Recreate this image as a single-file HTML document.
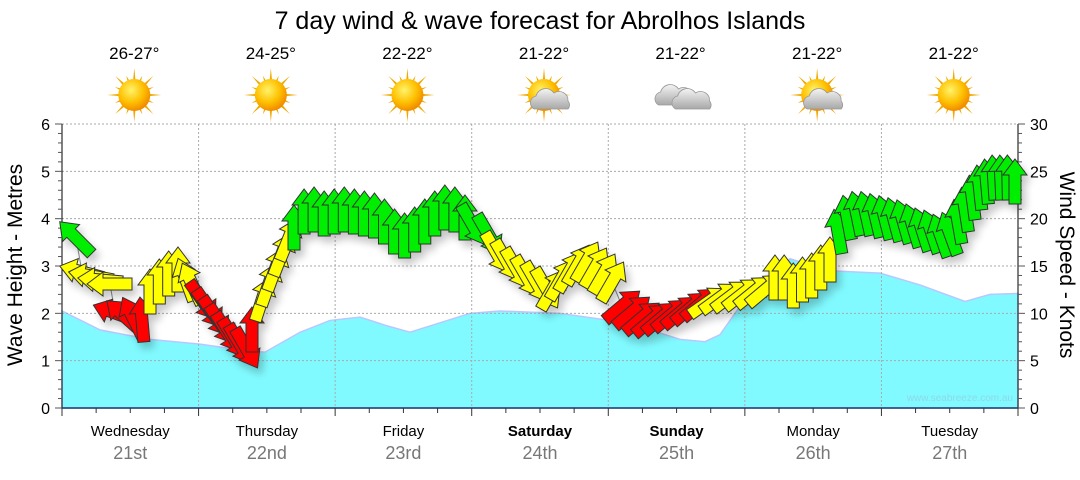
<!DOCTYPE html>
<html><head><meta charset="utf-8"><style>
body{margin:0;background:#fff;width:1080px;height:475px;overflow:hidden;font-family:"Liberation Sans",sans-serif}
</style></head><body>
<svg id="s" width="1080" height="475" xmlns="http://www.w3.org/2000/svg" font-family="Liberation Sans, sans-serif">
<defs>
<radialGradient id="sun" cx="40%" cy="35%" r="65%"><stop offset="0" stop-color="#fff36a"/><stop offset="0.6" stop-color="#ffc000"/><stop offset="1" stop-color="#f08c00"/></radialGradient>
<linearGradient id="cl" x1="0" y1="0" x2="0" y2="1"><stop offset="0" stop-color="#f4f4f4"/><stop offset="1" stop-color="#a8a8a8"/></linearGradient>
<filter id="sh" x="-30%" y="-30%" width="160%" height="160%"><feGaussianBlur in="SourceAlpha" stdDeviation="4"/><feOffset dx="4" dy="6"/><feComponentTransfer><feFuncA type="linear" slope="0.22"/></feComponentTransfer><feMerge><feMergeNode/><feMergeNode in="SourceGraphic"/></feMerge></filter>
</defs>
<text x="540" y="29" font-size="25" text-anchor="middle" fill="#000">7 day wind &amp; wave forecast for Abrolhos Islands</text>
<g id="top" font-size="17" text-anchor="middle"></g>
<polygon id="wave" fill="#80faff" stroke="#b8c8ff" stroke-width="1.5"/>
<g id="grid" stroke="#aaa" stroke-width="1" stroke-dasharray="2,2"></g>
<g id="axes"></g>
<text x="1013" y="401" font-size="10" fill="#8fd8e8" text-anchor="end">www.seabreeze.com.au</text>
<polyline id="wl" fill="none" stroke="#888" stroke-width="1"/>
<g id="arr" filter="url(#sh)" stroke="#333" stroke-width="1" stroke-linejoin="miter"></g>
<text transform="translate(22,265) rotate(-90)" font-size="21" text-anchor="middle">Wave Height - Metres</text>
<text transform="translate(1060,265) rotate(90)" font-size="21" text-anchor="middle">Wind Speed - Knots</text>
<g id="days" text-anchor="middle"></g>
</svg>
<script>
const NS="http://www.w3.org/2000/svg";
function el(p,t,a,txt){const e=document.createElementNS(NS,t);for(const k in a)e.setAttribute(k,a[k]);if(txt!=null)e.textContent=txt;p.appendChild(e);return e;}
const X0=62,X1=1018,Y0=408,Y6=124,py=(Y0-Y6)/6,DW=(X1-X0)/7;
const g=document.getElementById('grid'),ax=document.getElementById('axes');
for(let i=1;i<6;i++){const y=Y0-i*py;el(g,'line',{x1:X0,x2:X1,y1:y,y2:y});}
el(g,'line',{x1:X0,x2:X1,y1:Y6,y2:Y6});
for(let d=1;d<7;d++){const x=X0+d*DW;el(g,'line',{x1:x,x2:x,y1:Y6,y2:Y0});}
el(ax,'line',{x1:X0,x2:X0,y1:Y6,y2:Y0,stroke:'#000'});
el(ax,'line',{x1:X1,x2:X1,y1:Y6,y2:Y0,stroke:'#000'});
el(ax,'line',{x1:X0,x2:X1,y1:Y0,y2:Y0,stroke:'#1a3a6a','stroke-width':1.5});
for(let i=0;i<=30;i++){const y=Y0-i*py/5;const L=i%5==0?7:4;el(ax,'line',{x1:X0-L,x2:X0,y1:y,y2:y,stroke:'#555'});
 el(ax,'line',{x1:X1,x2:X1+(i%5==0?7:4),y1:Y0-i*(Y0-Y6)/30,y2:Y0-i*(Y0-Y6)/30,stroke:'#555'});}
for(let i=0;i<=6;i++)el(ax,'text',{x:50,y:Y0-i*py+6,'font-size':16,'text-anchor':'end'},i);
for(let i=0;i<=6;i++)el(ax,'text',{x:1030,y:Y0-i*py+6,'font-size':16},i*5);
for(let i=0;i<=28;i++){const x=X0+i*DW/4;el(ax,'line',{x1:x,x2:x,y1:Y0,y2:Y0+(i%4==0?8:5),stroke:'#333'});}
const days=[["Wednesday","21st",0],["Thursday","22nd",0],["Friday","23rd",0],["Saturday","24th",1],["Sunday","25th",1],["Monday","26th",0],["Tuesday","27th",0]];
const temps=["26-27°","24-25°","22-22°","21-22°","21-22°","21-22°","21-22°"];
const icons=["s","s","s","sc","c","sc","s"];
const dg=document.getElementById('days'),tg=document.getElementById('top');
days.forEach((d,i)=>{const cx=X0+(i+0.5)*DW;
 el(dg,'text',{x:cx,y:436,'font-size':15,'font-weight':d[2]?'bold':'normal'},d[0]);
 el(dg,'text',{x:cx,y:459,'font-size':18,fill:'#777'},d[1]);
 el(tg,'text',{x:cx+4,y:59},temps[i]);
 const ix=cx+4,iy=95;
 if(icons[i]!="c"){const sg=el(tg,'g',{});
  for(let k=0;k<16;k++){const a=k*Math.PI/8,L=k%2?21:27;el(sg,'polygon',{points:`${ix+Math.cos(a-0.12)*12},${iy+Math.sin(a-0.12)*12} ${ix+Math.cos(a)*L},${iy+Math.sin(a)*L} ${ix+Math.cos(a+0.12)*12},${iy+Math.sin(a+0.12)*12}`,fill:'#f0a800'});}
  el(sg,'circle',{cx:ix,cy:iy,r:16,fill:'url(#sun)'});}
 if(icons[i]!="s"){const ox=icons[i]=="c"?ix-4:ix+8,oy=icons[i]=="c"?iy:iy+4;
  el(tg,'path',{d:`M${ox-18},${oy+10} a7,7 0 0 1 2,-13 a10,10 0 0 1 18,-3 a9,9 0 0 1 14,8 a6,6 0 0 1 0,8 z`,fill:'url(#cl)',stroke:'#999','stroke-width':0.8});
  if(icons[i]=="c")el(tg,'path',{d:`M${ox-1},${oy+14} a7,7 0 0 1 2,-13 a10,10 0 0 1 18,-3 a9,9 0 0 1 14,8 a6,6 0 0 1 0,8 z`,fill:'url(#cl)',stroke:'#999','stroke-width':0.8});}
});
const wv=[[62,2.05],[100,1.65],[150,1.45],[200,1.35],[250,1.2],[265,1.18],[300,1.6],[330,1.85],[360,1.92],[385,1.75],[410,1.6],[440,1.8],[470,2.0],[500,2.05],[560,2.0],[610,1.85],[650,1.65],[680,1.45],[705,1.4],[720,1.55],[745,2.3],[790,3.15],[830,2.9],[880,2.85],[920,2.6],[965,2.25],[990,2.4],[1018,2.42]];
document.getElementById('wave').setAttribute('points',`${X0},${Y0} `+wv.map(p=>`${p[0]},${Y0-p[1]*py}`).join(' ')+` ${X1},${Y0}`);
const C={g:'#00ee00',y:'#ffff00',r:'#ff0000'};
const A=[];
function seg(x0,x1,ys,a0,a1,c){const n=ys.length;for(let i=0;i<n;i++){const t=n>1?i/(n-1):0;A.push([x0+(x1-x0)*t,ys[i],a0+(a1-a0)*t,c]);}}
A.push([76,238,-45,'g']);
seg(82,110,[272,276,280,284],-75,-90,'y');
seg(115,142,[313,316,318,320],-70,-5,'r');
seg(150,178,[292,282,274,270],0,0,'y');
seg(186,192,[280,284],-20,-25,'y');
seg(202,246,[300,308,316,324,332,338,344,348],145,150,'r');
seg(252,252,[330],0,0,'r');
seg(262,288,[300,285,270,255,240],18,22,'y');
seg(294,465,[228,212,210,214,212,210,212,214,216,222,232,236,230,222,214,208,210,218],0,0,'g');
seg(472,488,[224,234],150,150,'g');
seg(496,546,[252,260,268,276,282,288],150,150,'y');
seg(552,612,[290,280,272,265,262,268,274,282],30,30,'y');
seg(622,700,[306,312,318,320,318,315,312,308,304],50,50,'r');
seg(708,765,[302,298,296,294,292,290],55,50,'y');
seg(775,830,[278,278,286,280,276,268,260],0,0,'y');
seg(838,950,[232,218,214,214,216,218,220,222,226,230,232,236,234],-10,-20,'g');
seg(958,1015,[222,210,198,188,182,178,178,178,182],-10,0,'g');
const ag=document.getElementById('arr');
const shape="0,-23 12,-7 6,-7 6,22 -6,22 -6,-7 -12,-7";
document.getElementById('wl').setAttribute('points',A.map(a=>`${a[0].toFixed(1)},${a[1]}`).join(' '));
A.forEach(a=>el(ag,'polygon',{points:shape,fill:C[a[3]],transform:`translate(${a[0].toFixed(1)},${a[1]}) rotate(${a[2]})`}));
</script>
</body></html>
